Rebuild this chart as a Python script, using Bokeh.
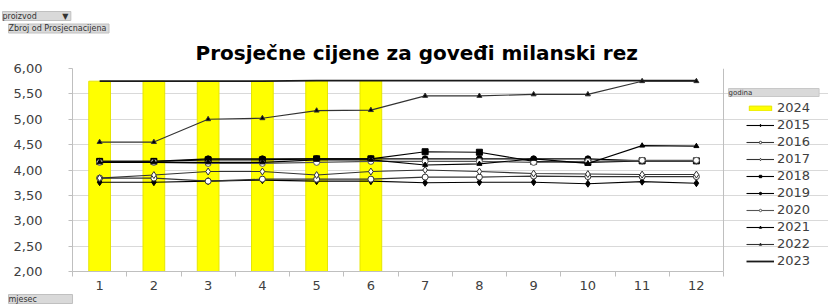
from bokeh.plotting import figure
from bokeh.models import Label, Legend, LegendItem, FixedTicker, Title, Span
from bokeh.embed import file_html
from bokeh.resources import INLINE

months = list(range(1, 13))
month_labels = [str(m) for m in months]
y_ticks = [2.0, 2.5, 3.0, 3.5, 4.0, 4.5, 5.0, 5.5, 6.0]
y_tick_labels = ["2,00", "2,50", "3,00", "3,50", "4,00", "4,50", "5,00", "5,50", "6,00"]

y2024 = [5.75, 5.75, 5.75, 5.75, 5.76, 5.76]
y2015 = [3.76, 3.76, 3.78, 3.80, 3.78, 3.78, 3.75, 3.76, 3.76, 3.73, 3.77, 3.74]
y2016 = [3.84, 3.84, 3.78, 3.82, 3.82, 3.82, 3.86, 3.86, 3.88, 3.87, 3.87, 3.87]
y2017 = [3.84, 3.90, 3.97, 3.97, 3.90, 3.97, 4.00, 3.97, 3.93, 3.92, 3.91, 3.91]
y2018 = [4.17, 4.17, 4.20, 4.20, 4.22, 4.22, 4.36, 4.35, 4.17, 4.15, 4.18, 4.18]
y2019 = [4.17, 4.17, 4.22, 4.22, 4.22, 4.22, 4.22, 4.22, 4.22, 4.22, 4.18, 4.18]
y2020 = [4.15, 4.15, 4.13, 4.13, 4.15, 4.17, 4.17, 4.17, 4.15, 4.17, 4.19, 4.19]
y2021 = [4.15, 4.15, 4.15, 4.15, 4.20, 4.20, 4.10, 4.12, 4.22, 4.13, 4.48, 4.47]
y2022 = [4.55, 4.55, 5.00, 5.02, 5.17, 5.18, 5.46, 5.46, 5.49, 5.49, 5.75, 5.75]
y2023 = [5.75, 5.75, 5.75, 5.75, 5.76, 5.76, 5.76, 5.76, 5.76, 5.76, 5.76, 5.76]

W, H = 828, 307
FONT = "DejaVu Sans"
NB = "\u00a0"
FRAME_L, FRAME_T, FRAME_B = 72, 68, 271
CAT_W = 54.25
X_END = 0.5 + (W - FRAME_L) / CAT_W

p = figure(width=W, height=H, x_range=(0.5, X_END), y_range=(2, 6),
           output_backend="svg", toolbar_location=None, title=None,
           min_border_left=FRAME_L, min_border_right=0, min_border_top=FRAME_T,
           min_border_bottom=H - FRAME_B)
p.background_fill_color = "white"
p.border_fill_color = "white"
p.outline_line_color = None

# axes
p.xaxis.bounds = (0.5, 12.5)
p.xaxis.ticker = FixedTicker(ticks=months, minor_ticks=[m + 0.5 for m in range(0, 13)])
p.xaxis.major_label_overrides = {m: l for m, l in zip(months, month_labels)}
p.xaxis.major_tick_line_color = None
p.xaxis.major_tick_out = 5
p.xaxis.major_tick_in = 0
p.xaxis.minor_tick_out = 5
p.xaxis.minor_tick_in = 0
p.xaxis.minor_tick_line_color = "#bfbfbf"
p.xaxis.axis_line_color = "#bfbfbf"
p.xaxis.major_label_text_font = FONT
p.xaxis.major_label_text_font_size = "13px"
p.xaxis.major_label_text_color = "#404040"
p.xaxis.major_label_standoff = 4

p.yaxis.ticker = FixedTicker(ticks=y_ticks)
p.yaxis.major_label_overrides = {t: l for t, l in zip(y_ticks, y_tick_labels)}
p.yaxis.major_tick_out = 4
p.yaxis.major_tick_in = 0
p.yaxis.major_tick_line_color = "#bfbfbf"
p.yaxis.minor_tick_line_color = None
p.yaxis.axis_line_color = "#bfbfbf"
p.yaxis.major_label_text_font = FONT
p.yaxis.major_label_text_font_size = "13px"
p.yaxis.major_label_text_color = "#404040"
p.yaxis.major_label_standoff = 26

p.xgrid.grid_line_color = None
p.ygrid.grid_line_color = "#d9d9d9"
p.ygrid.bounds = (0.5, 12.5)
p.add_layout(Span(location=12.5, dimension="height", line_color="#bfbfbf", line_width=1))

# bars
r2024 = p.vbar(x=months[:len(y2024)], top=y2024, bottom=0, width=0.4,
               fill_color="#ffff00", line_color="#e6e600", line_width=1)

series = [
    ("2015", y2015, "diamond", "#000000", "#000000", 7),
    ("2016", y2016, "circle", "white", "#333333", 6),
    ("2017", y2017, "diamond", "white", "#333333", 7),
    ("2018", y2018, "square", "#000000", "#000000", 6),
    ("2019", y2019, "circle", "#000000", "#000000", 6),
    ("2020", y2020, "circle", "white", "#555555", 6),
    ("2021", y2021, "triangle", "#000000", "#000000", 5),
    ("2022", y2022, "triangle", "#000000", "#333333", 5),
]
items = [LegendItem(label="2024", renderers=[r2024])]
for name, ys, mk, fill, lc, sz in series:
    ln = p.line(months, ys, line_color=lc, line_width=1.1)
    sc = p.scatter(months, ys, marker=mk, size=sz, fill_color=fill, line_color=lc, line_width=1)
    items.append(LegendItem(label=name, renderers=[ln, sc]))
l23 = p.line(months, y2023, line_color="#1a1a1a", line_width=1.8)
items.append(LegendItem(label="2023", renderers=[l23]))

legend = Legend(items=items, location=(674, 3), padding=0, margin=0, spacing=2,
                glyph_width=28, glyph_height=6, label_height=14, label_standoff=3,
                label_text_font=FONT, label_text_font_size="13px",
                label_text_color="#404040", border_line_color=None,
                background_fill_alpha=0)
p.add_layout(legend, "center")

# legend field header
p.add_layout(Label(x=656, y=FRAME_B - 88, x_units="screen", y_units="screen",
                   text="godina" + NB * 30, text_align="left", text_baseline="top",
                   text_font=FONT, text_font_size="7px", text_color="#333333",
                   background_fill_color="#d9d9d9", border_line_color="#c8c8c8"))

# chart title (nearest to the plot area)
p.add_layout(Title(text="Prosječne cijene za goveđi milanski rez", align="left",
                   offset=123, standoff=8, text_font=FONT, text_font_size="20px",
                   text_font_style="bold", text_color="#000000"), "above")

# pivot field buttons
def button(text, side, standoff, offset):
    t = Title(text=text, align="left", offset=offset, standoff=standoff,
              text_font=FONT, text_font_size="8px", text_font_style="normal",
              text_color="#333333", background_fill_color="#d9d9d9",
              border_line_color="#c0c0c0")
    p.add_layout(t, side)

button("Zbroj" + NB + "od" + NB + "Prosjecnacijena" + NB, "above", 3, -64)
button("proizvod" + NB * 10 + "\u25BC" + NB, "above", 0, -70)
button("mjesec" + NB * 14, "below", 0, -64)

with open("out.html", "w") as f:
    f.write(file_html(p, INLINE))
